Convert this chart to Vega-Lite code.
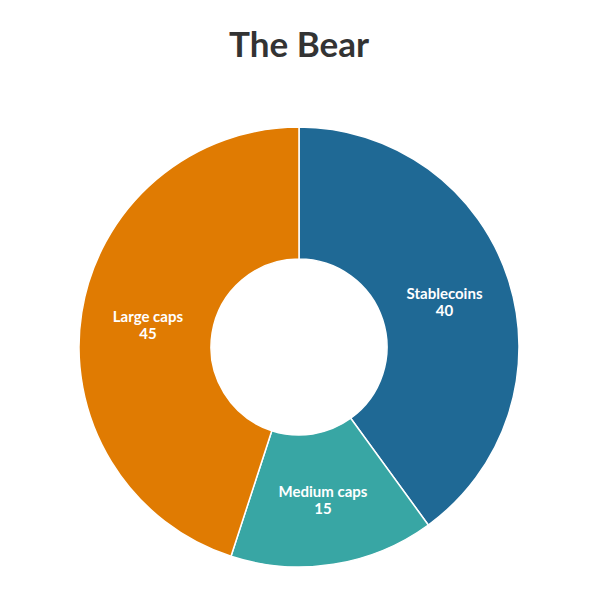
{
  "$schema": "https://vega.github.io/schema/vega-lite/v6.json",
  "width": 598,
  "height": 532,
  "padding": {"top": 29, "left": 0, "right": 0, "bottom": 0},
  "autosize": {"type": "pad"},
  "background": "white",
  "title": {"text": "The Bear", "fontSize": 35, "font": "Lato", "fontWeight": "bold", "color": "#333333", "anchor": "middle", "offset": 17},
  "view": {"stroke": null},
  "data": {"values": [
    {"category": "Stablecoins", "value": 40, "rank": 1},
    {"category": "Medium caps", "value": 15, "rank": 2},
    {"category": "Large caps", "value": 45, "rank": 3}
  ]},
  "encoding": {
    "theta": {"field": "value", "type": "quantitative", "stack": true},
    "order": {"field": "rank", "type": "quantitative"}
  },
  "layer": [
    {
      "mark": {"type": "arc", "outerRadius": 220, "innerRadius": 88, "stroke": "white", "strokeWidth": 1.5},
      "encoding": {
        "color": {
          "field": "category", "type": "nominal", "legend": null,
          "scale": {"domain": ["Stablecoins", "Medium caps", "Large caps"], "range": ["#1f6995", "#38a6a4", "#e07b02"]}
        }
      }
    },
    {
      "mark": {"type": "text", "radius": 153, "dy": -6, "font": "Lato", "fontWeight": "bold", "fontSize": 15, "color": "white"},
      "encoding": {"text": {"field": "category"}}
    },
    {
      "mark": {"type": "text", "radius": 153, "dy": 11, "font": "Lato", "fontWeight": "bold", "fontSize": 15, "color": "white"},
      "encoding": {"text": {"field": "value", "type": "quantitative"}}
    }
  ]
}
